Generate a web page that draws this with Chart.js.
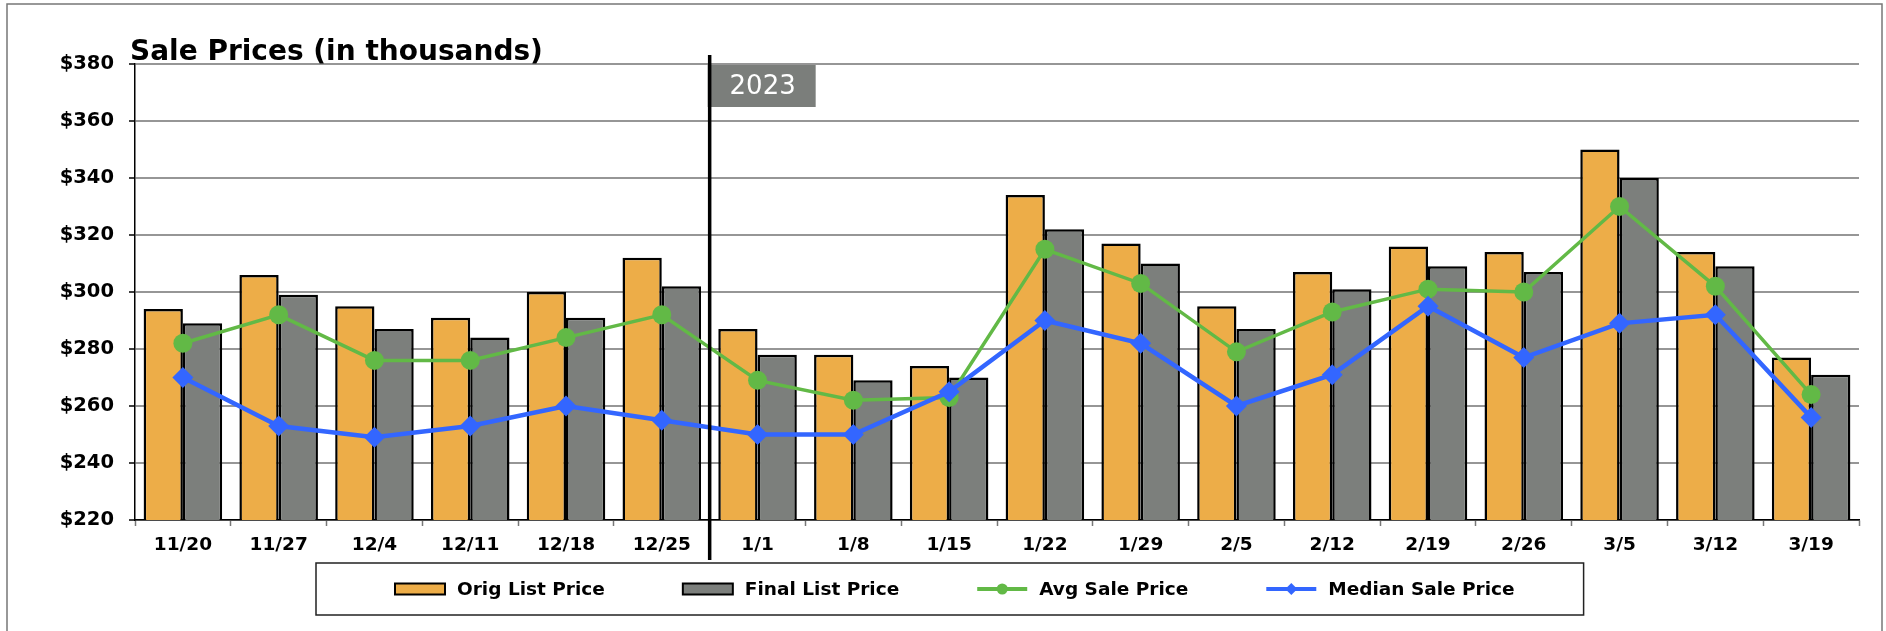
<!DOCTYPE html>
<html>
<head>
<meta charset="utf-8">
<script src="https://cdn.jsdelivr.net/npm/chart.js@4.4.0/dist/chart.umd.min.js"></script>
<style>
  html, body { margin: 0; padding: 0; background: #fff; }
</style>
</head>
<body>
<canvas id="prices" width="1886" height="631"></canvas>
<script>
const weeks = ['11/20', '11/27', '12/4', '12/11', '12/18', '12/25', '1/1', '1/8', '1/15',
  '1/22', '1/29', '2/5', '2/12', '2/19', '2/26', '3/5', '3/12', '3/19'];
const origList = [294, 306, 295, 291, 300, 312, 287, 278, 274, 334, 317, 295, 307, 316, 314, 350, 314, 277];
const finalList = [289, 299, 287, 284, 291, 302, 278, 269, 270, 322, 310, 287, 301, 309, 307, 340, 309, 271];
const avgSale = [282, 292, 276, 276, 284, 292, 269, 262, 263, 315, 303, 279, 293, 301, 300, 330, 302, 264];
const medianSale = [270, 253, 249, 253, 260, 255, 250, 250, 265, 290, 282, 260, 271, 295, 277, 289, 292, 256];
const yTickValues = [220, 240, 260, 280, 300, 320, 340, 360, 380];
const chartTitle = 'Sale Prices (in thousands)';
const yearLabel = '2023';
const yearStartWeek = '1/1';

const FONT = '"DejaVu Sans", sans-serif';
const orange = '#EDAD48', gray = '#7C7F7C', green = '#62B946', blue = '#3366FF';

// outer frame + title
const frameTitle = {
  id: 'frameTitle',
  beforeDraw(chart) {
    const ctx = chart.ctx;
    ctx.save();
    ctx.fillStyle = '#fff';
    ctx.fillRect(0, 0, chart.width, chart.height);
    ctx.strokeStyle = '#777';
    ctx.lineWidth = 1.5;
    ctx.strokeRect(7, 4, chart.width - 11, chart.height + 10);
    ctx.restore();
  },
  afterDraw(chart) {
    const {ctx, chartArea} = chart;
    ctx.save();
    ctx.font = 'bold 28px ' + FONT;
    ctx.fillStyle = '#000';
    ctx.textBaseline = 'alphabetic';
    ctx.fillText(chartTitle, chartArea.left - 5, chartArea.top - 4);
    ctx.restore();
  }
};

// divider between years and the year tag
const yearMarker = {
  id: 'yearMarker',
  afterDatasetsDraw(chart) {
    const {ctx, chartArea, scales: {x}} = chart;
    const idx = weeks.indexOf(yearStartWeek);
    const lx = (x.getPixelForValue(idx - 1) + x.getPixelForValue(idx)) / 2;
    ctx.save();
    ctx.fillStyle = '#7B7E7B';
    ctx.fillRect(lx - 2, chartArea.top + 1, 108, 42);
    ctx.strokeStyle = '#000';
    ctx.lineWidth = 3.5;
    ctx.beginPath();
    ctx.moveTo(lx, chartArea.top - 9);
    ctx.lineTo(lx, chartArea.bottom + 40);
    ctx.stroke();
    ctx.fillStyle = '#fff';
    ctx.font = '26px ' + FONT;
    ctx.textAlign = 'center';
    ctx.textBaseline = 'middle';
    ctx.fillText(yearLabel, lx + 53, chartArea.top + 23);
    ctx.restore();
  }
};

// boxed legend under the axis
const legendRow = {
  id: 'legendRow',
  afterDraw(chart) {
    const ctx = chart.ctx;
    const sets = chart.data.datasets;
    const cy = 589, iconW = 50, textGap = 12, itemGap = 78, startX = 395;
    ctx.save();
    ctx.font = 'bold 18.5px ' + FONT;
    let x = startX;
    sets.forEach(ds => {
      if (ds.type === 'line') {
        ctx.strokeStyle = ds.borderColor;
        ctx.lineWidth = 4;
        ctx.beginPath();
        ctx.moveTo(x, cy);
        ctx.lineTo(x + iconW, cy);
        ctx.stroke();
        ctx.fillStyle = ds.borderColor;
        ctx.beginPath();
        if (ds.pointStyle === 'rectRot') {
          ctx.moveTo(x + iconW / 2, cy - 6);
          ctx.lineTo(x + iconW / 2 + 6, cy);
          ctx.lineTo(x + iconW / 2, cy + 6);
          ctx.lineTo(x + iconW / 2 - 6, cy);
          ctx.closePath();
        } else {
          ctx.arc(x + iconW / 2, cy, 5.5, 0, Math.PI * 2);
        }
        ctx.fill();
      } else {
        ctx.fillStyle = ds.backgroundColor;
        ctx.fillRect(x, cy - 5.5, iconW, 11);
        ctx.strokeStyle = '#000';
        ctx.lineWidth = 2;
        ctx.strokeRect(x, cy - 5.5, iconW, 11);
      }
      ctx.fillStyle = '#000';
      ctx.textBaseline = 'middle';
      ctx.fillText(ds.label, x + iconW + textGap, cy + 1);
      x += iconW + textGap + ctx.measureText(ds.label).width + itemGap;
    });
    const right = x - itemGap + 69;
    ctx.strokeStyle = '#222';
    ctx.lineWidth = 1.5;
    ctx.strokeRect(startX - 79, 563, right - (startX - 79), 52);
    ctx.restore();
  }
};

new Chart('prices', {
  type: 'bar',
  data: {
    labels: weeks,
    datasets: [
      { label: 'Orig List Price', data: origList, backgroundColor: orange, borderColor: '#000', borderWidth: 2.5, order: 2 },
      { label: 'Final List Price', data: finalList, backgroundColor: gray, borderColor: '#000', borderWidth: 2.5, order: 2 },
      { type: 'line', label: 'Avg Sale Price', data: avgSale, borderColor: green, backgroundColor: green,
        borderWidth: 3.5, pointRadius: 9.5, pointHoverRadius: 9.5, pointBorderWidth: 0, order: 1 },
      { type: 'line', label: 'Median Sale Price', data: medianSale, borderColor: blue, backgroundColor: blue,
        borderWidth: 4.5, pointStyle: 'rectRot', pointRadius: 10.5, pointHoverRadius: 10.5, pointBorderWidth: 0, order: 0 }
    ]
  },
  options: {
    responsive: false,
    animation: false,
    layout: { padding: { top: 64, right: 27, left: 0, bottom: 0 } },
    datasets: { bar: { categoryPercentage: 0.82, barPercentage: 1 } },
    plugins: {
      legend: { display: false },
      title: { display: false },
      tooltip: { enabled: false }
    },
    scales: {
      x: {
        offset: true,
        grid: { drawOnChartArea: false, offset: true, tickLength: 6, tickColor: '#777', tickWidth: 1.5 },
        border: { color: '#000', width: 1.5 },
        ticks: { color: '#000', font: { family: FONT, size: 18.5, weight: 'bold' }, padding: 8, maxRotation: 0, autoSkip: false },
        afterFit(scale) { scale.height = 111; }
      },
      y: {
        min: 220,
        max: 380,
        afterBuildTicks(scale) { scale.ticks = yTickValues.map(v => ({ value: v })); },
        ticks: { color: '#000', font: { family: FONT, size: 19.5, weight: 'bold' }, padding: 15, callback: v => '$' + v },
        grid: { color: '#969696', lineWidth: 2, tickLength: 6, tickColor: '#000', tickWidth: 1.5 },
        border: { color: '#000', width: 1.5 },
        afterFit(scale) { scale.width = 135; }
      }
    }
  },
  plugins: [frameTitle, yearMarker, legendRow]
});
</script>
</body>
</html>
